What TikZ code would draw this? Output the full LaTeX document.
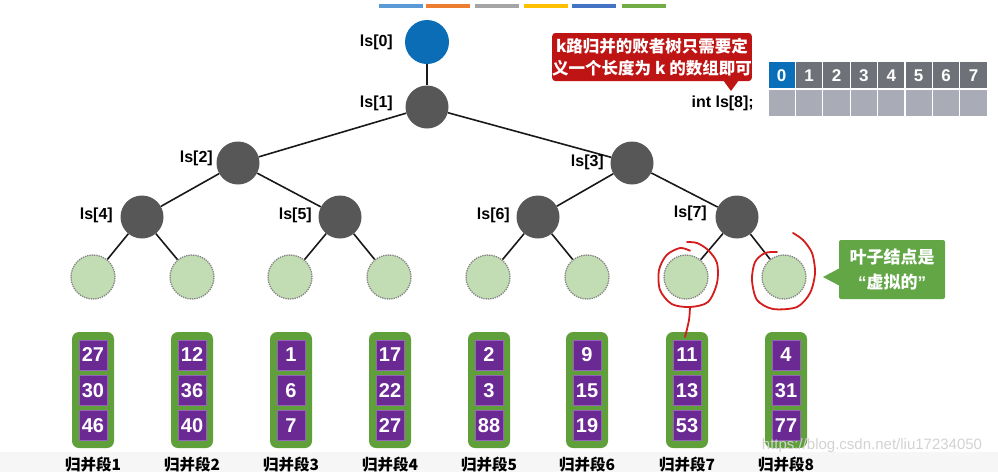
\documentclass[tikz,border=0pt]{standalone}
\usepackage{fontspec}
\setmainfont{Liberation Sans}
\newfontfamily\cjk{Noto Sans CJK SC}
\definecolor{rootblue}{RGB}{11,109,181}
\definecolor{nodegray}{RGB}{87,87,87}
\definecolor{leafgreen}{RGB}{194,221,179}
\definecolor{leafedge}{RGB}{130,130,130}
\definecolor{boxgreen}{RGB}{96,160,58}
\definecolor{cellpurple}{RGB}{107,42,147}
\definecolor{celledge}{RGB}{150,100,185}
\definecolor{calred}{RGB}{190,20,20}
\definecolor{calgreen}{RGB}{98,166,70}
\definecolor{arrblue}{RGB}{10,110,184}
\definecolor{arrgray}{RGB}{110,113,119}
\definecolor{arrlight}{RGB}{169,171,182}
\definecolor{penred}{RGB}{212,28,28}
\definecolor{bandgray}{RGB}{246,246,246}
\definecolor{barA}{RGB}{91,155,213}
\definecolor{barB}{RGB}{237,125,49}
\definecolor{barC}{RGB}{165,165,165}
\definecolor{barD}{RGB}{255,192,0}
\definecolor{barE}{RGB}{68,114,196}
\definecolor{barF}{RGB}{112,173,71}
\begin{document}
\begin{tikzpicture}[x=1pt,y=-1pt,
  edge/.style={draw=black!90, line width=1.6pt},
  rootn/.style={circle, fill=rootblue, minimum size=44pt, inner sep=0pt},
  innern/.style={circle, fill=nodegray, minimum size=43pt, inner sep=0pt},
  leafn/.style={circle, fill=leafgreen, draw=leafedge, densely dotted, line width=1.3pt, minimum size=44pt, inner sep=0pt},
  lbl/.style={font=\bfseries\fontsize{16}{16}\selectfont, inner sep=0pt, anchor=east},
  runbox/.style={rectangle, rounded corners=7pt, fill=boxgreen, minimum width=42pt, minimum height=116pt, inner sep=0pt},
  cellbox/.style={rectangle, fill=cellpurple, draw=celledge, line width=0.8pt, minimum width=28pt, minimum height=30pt, inner sep=0pt, text=white, font=\bfseries\fontsize{20}{20}\selectfont},
  seglbl/.style={font=\cjk\bfseries\fontsize{15.5}{15.5}\selectfont, inner sep=0pt},
  arrtop/.style={rectangle, draw=white, line width=1.2pt, minimum width=27.4pt, minimum height=27.5pt, inner sep=0pt, text=white, font=\bfseries\fontsize{17}{17}\selectfont},
  arrbot/.style={rectangle, fill=arrlight, draw=white, line width=1.2pt, minimum width=27.4pt, minimum height=28pt, inner sep=0pt},
  redcall/.style={rectangle, rounded corners=3pt, fill=calred, text=white, align=center, minimum width=190pt, minimum height=48pt, inner sep=0pt, font=\cjk\bfseries\fontsize{16.5}{22}\selectfont},
  greencall/.style={rectangle, rounded corners=2pt, fill=calgreen, text=white, align=center, minimum width=106pt, minimum height=59pt, inner sep=0pt, font=\cjk\bfseries\fontsize{17}{25}\selectfont},
  redpen/.style={draw=penred, line width=1.8pt, line cap=round, line join=round},
  wm/.style={text=gray!35, font=\fontsize{15}{15}\selectfont, inner sep=0pt}
]
\useasboundingbox (0,0) rectangle (998,472);
\fill[bandgray] (0,452) rectangle (998,472);

% colour bars
\foreach \c/\a in {barA/379, barB/426, barC/475, barD/524, barE/572, barF/622}
  \fill[\c] (\a,4) rectangle ++(44,4);

% tree nodes
\node[rootn]  (n0) at (427,42)  {};
\node[innern] (n1) at (427,107) {};
\node[innern] (n2) at (238,163) {};
\node[innern] (n3) at (632,163) {};
\node[innern] (n4) at (142,217) {};
\node[innern] (n5) at (340,217) {};
\node[innern] (n6) at (538,217) {};
\node[innern] (n7) at (737,217) {};
\foreach \i/\x in {1/93,2/192,3/290,4/389,5/488,6/587,7/686,8/784}
  \node[leafn] (l\i) at (\x,277) {};

% edges
\draw[edge] (n0) -- (n1);
\draw[edge] (n1) -- (n2);
\draw[edge] (n1) -- (n3);
\draw[edge] (n2) -- (n4);
\draw[edge] (n2) -- (n5);
\draw[edge] (n3) -- (n6);
\draw[edge] (n3) -- (n7);
\draw[edge] (n4) -- (l1);
\draw[edge] (n4) -- (l2);
\draw[edge] (n5) -- (l3);
\draw[edge] (n5) -- (l4);
\draw[edge] (n6) -- (l5);
\draw[edge] (n6) -- (l6);
\draw[edge] (n7) -- (l7);
\draw[edge] (n7) -- (l8);

% node labels
\node[lbl] (t0) at (393,42)  {ls[0]};
\node[lbl] (t1) at (393,103) {ls[1]};
\node[lbl] (t2) at (213,158) {ls[2]};
\node[lbl] (t3) at (604,162) {ls[3]};
\node[lbl] (t4) at (113,215) {ls[4]};
\node[lbl] (t5) at (312,215) {ls[5]};
\node[lbl] (t6) at (510,215) {ls[6]};
\node[lbl] (t7) at (707,213) {ls[7]};

% runs
\foreach \i/\x/\a/\b/\c in {1/93/27/30/46, 2/192/12/36/40, 3/291/1/6/7, 4/390/17/22/27, 5/489/2/3/88, 6/587/9/15/19, 7/687/11/13/53, 8/786/4/31/77}{
  \node[runbox] (r\i) at (\x,390) {};
  \node[cellbox] (c\i a) at (\x,355) {\a};
  \node[cellbox] (c\i b) at (\x,390.5) {\b};
  \node[cellbox] (c\i c) at (\x,425.5) {\c};
  \node[seglbl] (s\i) at (\x,465) {归并段\i};
}

% array
\foreach \k in {0,...,7}{
  \pgfmathsetmacro{\ax}{768+27.4*\k+13.7}
  \ifnum\k=0 \def\fc{arrblue}\else\def\fc{arrgray}\fi
  \node[arrtop, fill=\fc] (a\k) at (\ax,75.5) {\k};
  \node[arrbot] (b\k) at (\ax,103) {};
}
\node[lbl] (decl) at (754,103) {int ls[8];};

% red callout
\node[redcall] (cr) at (652,57) {k路归并的败者树只需要定\\义一个长度为 k 的数组即可};
\coordinate (crtip) at (731,91);
\fill[calred] (723,80) -- (crtip) -- (739,80) -- cycle;

% green callout
\node[greencall] (cg) at (892,269.5) {叶子结点是\\{\rmfamily\bfseries “}虚拟的{\rmfamily\bfseries ”}};
\coordinate (cgtip) at (823,277);
\fill[calgreen] (840,268) -- (cgtip) -- (840,286) -- cycle;

% red handwriting
\draw[redpen] plot[smooth] coordinates {(690,250.7) (680,248) (666.7,255) (659,270) (660,290) (671.7,304) (690,307) (708,302) (717,283) (717,263) (708,250) (697,243) (687,242)};
\draw[redpen] plot[smooth] coordinates {(690,307) (689,320) (685,337)};
\draw[redpen] plot[smooth] coordinates {(793,233) (803,240) (812,253) (815,273) (810,293) (797,307) (773,309) (757,300) (752,280) (755,262) (765,253) (777,252)};

% watermark
\node[wm] (wmk) at (872,446) {https://blog.csdn.net/liu17234050};
\end{tikzpicture}
\end{document}
